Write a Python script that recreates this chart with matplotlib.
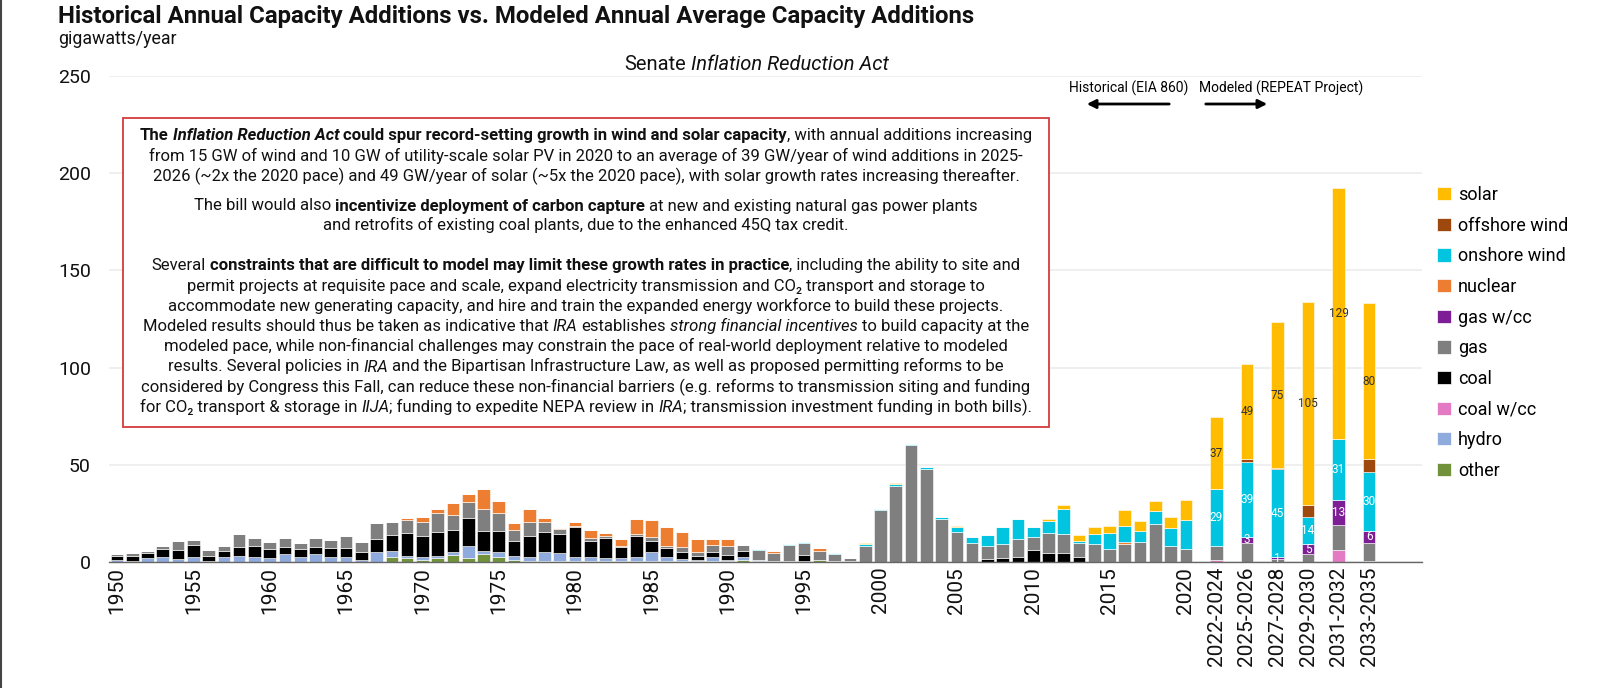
import matplotlib
matplotlib.use('Agg')
import matplotlib.pyplot as plt
import numpy as np
from matplotlib import font_manager
from matplotlib.patches import Patch, Rectangle, FancyArrowPatch
from matplotlib.lines import Line2D
from matplotlib.transforms import IdentityTransform

# ---- data: historical annual additions (GW), 1950-2020 ----
years = list(range(1950, 2021))
hist_other = ([0] * 18
              + [2.4, 1.9]                                              # 1968-69
              + [1.0, 1.9, 3.5, 1.9, 4.0, 2.7, 0.9, 0.4, 0.4, 0.4]      # 1970s
              + [0.4, 0.4, 0.4, 0.4, 0.4, 0.4, 0.4, 0.4, 0.4, 0.4]      # 1980s
              + [0.4, 1.2, 0.5, 0.5, 0.4, 0.6, 1.0, 0.5, 0.3, 0]        # 1990s
              + [0, 0.1, 0, 0, 0, 0, 0, 0, 0, 0]                        # 2000s
              + [0] * 11)                                               # 2010-20
hist_hydro = ([0.8, 0.6, 1.9, 2.4, 1.7, 2.4, 0.6, 2.4, 3.3, 2.4]
              + [2.0, 4.0, 2.7, 4.0, 2.7, 2.7, 1.0, 5.0, 3.1, 1.4]
              + [1.7, 1.4, 1.5, 6.3, 1.9, 2.6, 2.3, 2.0, 4.6, 4.1]
              + [2.3, 2.0, 1.5, 1.5, 2.0, 4.9, 2.1, 1.1, 0.6, 2.3]
              + [0.6, 1.5, 0.5, 0, 0, 0, 0, 0, 0, 0]
              + [0] * 10
              + [0] * 11)
hist_coal = ([2.2, 2.6, 2.7, 4.1, 4.6, 6.3, 2.5, 3.4, 4.6, 5.8]
             + [4.6, 3.6, 3.8, 3.9, 4.7, 4.7, 4.1, 6.7, 8.2, 11.5]
             + [10.6, 12.3, 11.5, 14.6, 9.8, 10.6, 7.7, 11.1, 10.6, 9.8]
             + [15.4, 8.6, 10.3, 5.7, 11.1, 5.6, 4.5, 3.8, 2.2, 2.3]
             + [2.6, 2.9, 0, 0, 0, 3.0, 0, 0, 0, 0]
             + [0, 0, 0, 0, 0, 0, 0, 1.7, 2.0, 2.4]
             + [6.2, 4.5, 4.5, 2.7, 0, 0, 0, 0, 0, 0, 0])
hist_gas = ([1.0, 1.6, 1.0, 1.9, 4.5, 2.4, 3.1, 2.6, 6.5, 4.0]
            + [3.8, 4.5, 3.4, 4.3, 4.1, 6.0, 5.3, 8.2, 6.9, 6.9]
            + [7.3, 9.4, 7.7, 8.2, 11.8, 9.1, 5.5, 6.9, 4.8, 2.7]
            + [0.3, 1.5, 1.4, 0.8, 0.9, 2.1, 1.4, 2.2, 2.2, 3.8]
            + [4.6, 3.1, 5.2, 4.0, 8.5, 6.0, 4.6, 3.5, 1.8, 8.3]
            + [26.7, 39.0, 60.0, 47.6, 22.3, 15.6, 10.0, 6.7, 7.5, 9.2]
            + [6.8, 10.3, 9.8, 6.9, 9.1, 6.7, 9.2, 10.1, 19.5, 8.4, 6.7])
hist_nuclear = ([0] * 19
                + [0.9]                                                 # 1969
                + [2.3, 2.2, 6.3, 4.0, 10.0, 6.5, 3.8, 7.0, 2.0, 0.7]
                + [2.2, 4.2, 1.2, 3.4, 7.8, 8.6, 9.8, 7.7, 6.3, 2.9]
                + [3.8, 0, 0, 1.3, 0, 0, 1.7, 0, 0, 0]
                + [0] * 10
                + [0, 0, 0, 0, 0, 0, 1.2, 0, 0, 0, 0])
hist_onshore = ([0] * 30
                + [0, 0, 0.2, 0, 0, 0, 0, 0, 0, 0]
                + [0, 0.3, 0.3, 0, 0.3, 0.8, 0, 0.5, 0, 1.0]
                + [0.5, 1.2, 0.7, 1.4, 0.7, 2.6, 2.7, 5.5, 8.6, 10.3]
                + [4.8, 6.5, 13.2, 1.2, 5.1, 8.1, 8.2, 5.8, 6.8, 8.9, 14.9])
hist_solar = ([0] * 40
              + [0, 0, 0, 0, 0, 0, 0, 0, 0.2, 0.3]
              + [0, 0.4, 0, 0, 0, 0.2, 0, 0, 0, 0]
              + [0.3, 0.9, 1.7, 3.1, 3.9, 3.9, 8.4, 5.3, 5.1, 5.7, 10.3])

# ---- data: modeled annual average additions (GW/year) ----
periods = ['2022-2024', '2025-2026', '2027-2028', '2029-2030', '2031-2032', '2033-2035']
mod_coal_cc = [1.0, 0, 0, 0, 6.0, 0.5]
mod_gas = [7.0, 10.0, 1.5, 4.0, 13.2, 9.5]
mod_gas_cc = [0, 3.0, 1.0, 5.1, 12.6, 5.8]
mod_onshore = [29.4, 38.6, 45.4, 13.8, 31.4, 30.3]
mod_offshore = [0, 1.4, 0.3, 6.3, 0, 6.9]
mod_solar = [37.0, 48.6, 75.2, 104.8, 129.3, 80.1]

names = {f.name for f in font_manager.fontManager.ttflist}
NARROW = 'Liberation Sans Narrow' if 'Liberation Sans Narrow' in names else 'Roboto'
BODY = ['Roboto', 'DejaVu Sans']

COLORS = {
    'solar': '#FFBC00', 'offshore wind': '#9E480E', 'onshore wind': '#00C4E0',
    'nuclear': '#ED7D31', 'gas w/cc': '#7E1E96', 'gas': '#7F7F7F',
    'coal': '#000000', 'coal w/cc': '#E47AC4', 'hydro': '#8FAADC', 'other': '#71923A',
}

W, H = 1600, 688
fig = plt.figure(figsize=(W / 100, H / 100), dpi=100)
renderer = fig.canvas.get_renderer()


def fx(x):
    return x / W


def fy(y):
    return 1 - y / H


# axes: bar position 0 sits at pixel 117, 15.27 px per position
ax = fig.add_axes([fx(109), fy(562), fx(1422) - fx(109), fy(76) - fy(562)])
ax.set_xlim((109 - 117) / 15.27, (1422 - 117) / 15.27)
ax.set_ylim(0, 250)

xh = np.arange(len(years))
xm = 72 + 2 * np.arange(len(periods))
zeros = [0] * len(periods)
stack = [
    ('other', hist_other, zeros),
    ('hydro', hist_hydro, zeros),
    ('coal w/cc', [0] * len(years), mod_coal_cc),
    ('coal', hist_coal, zeros),
    ('gas', hist_gas, mod_gas),
    ('gas w/cc', [0] * len(years), mod_gas_cc),
    ('nuclear', hist_nuclear, zeros),
    ('onshore wind', hist_onshore, mod_onshore),
    ('offshore wind', [0] * len(years), mod_offshore),
    ('solar', hist_solar, mod_solar),
]
label_colors = {'gas w/cc': 'white', 'onshore wind': 'white', 'solar': '#333333'}

bh = np.zeros(len(years))
bm = np.zeros(len(periods))
for name, h, m in stack:
    h = np.array(h, dtype=float)
    m = np.array(m, dtype=float)
    ax.bar(xh, h, 0.83, bottom=bh, color=COLORS[name], edgecolor='white', linewidth=0.4)
    bars = ax.bar(xm, m, 0.83, bottom=bm, color=COLORS[name], edgecolor='white', linewidth=0.4)
    if name in label_colors:
        ax.bar_label(bars, labels=[f'{v:.0f}' if v >= 0.5 else '' for v in m],
                     label_type='center', color=label_colors[name], fontsize=8.5, family=BODY)
    bh += h
    bm += m

ticks = list(range(0, len(years), 5)) + list(xm)
ticklabels = [str(years[i]) for i in range(0, len(years), 5)] + periods
ax.set_xticks(ticks)
ax.set_xticklabels(ticklabels, rotation=90, fontsize=15, family=BODY, color='#111111')
ax.set_yticks([0, 50, 100, 150, 200, 250])
ax.set_yticklabels(['0', '50', '100', '150', '200', '250'], fontsize=14, family=BODY, color='#111111')
ax.tick_params(length=0)
ax.tick_params(axis='x', pad=3.5)
ax.tick_params(axis='y', pad=13)
ax.yaxis.grid(True, color='#EEEEEE', linewidth=1.3)
ax.set_axisbelow(True)
for s in ax.spines.values():
    s.set_visible(False)
ax.spines['bottom'].set_visible(True)
ax.spines['bottom'].set_color('#666666')
ax.spines['bottom'].set_linewidth(1.0)


def fit(t, width):
    w = t.get_window_extent(renderer).width
    t.set_fontsize(t.get_fontsize() * width / w)


def rich_line(cx, y, parts, size, family, color='#111111', z=6):
    # parts: (text, style) with style in '', 'b', 'i', 'bi'; y is the visual middle of the line
    space = {}
    items = []
    total = 0.0
    for s, st in parts:
        wt = 'bold' if 'b' in st else 'normal'
        it = 'italic' if 'i' in st else 'normal'
        if (wt, it) not in space:
            a = fig.text(0, 0, 'x x', fontsize=size, fontweight=wt, fontstyle=it, family=family,
                         transform=IdentityTransform())
            b = fig.text(0, 0, 'xx', fontsize=size, fontweight=wt, fontstyle=it, family=family,
                         transform=IdentityTransform())
            space[(wt, it)] = a.get_window_extent(renderer).width - b.get_window_extent(renderer).width
            a.remove()
            b.remove()
        lead = len(s) - len(s.lstrip(' '))
        trail = len(s) - len(s.rstrip(' '))
        t = fig.text(0, 0, s.strip(' '), fontsize=size, fontweight=wt, fontstyle=it, family=family,
                     transform=IdentityTransform(), ha='left', va='baseline', color=color, zorder=z)
        total += lead * space[(wt, it)]
        items.append((t, total))
        total += t.get_window_extent(renderer).width + trail * space[(wt, it)]
    left = cx - total / 2
    for t, off in items:
        t.set_position((left + off, H - (y + 0.5 * size)))


# titles
t = fig.text(fx(58), fy(17), 'Historical Annual Capacity Additions vs. Modeled Annual Average Capacity Additions',
             fontsize=16, fontweight='bold', family=NARROW, va='center', color='#111111')
fit(t, 922)
t = fig.text(fx(58), fy(39), 'gigawatts/year', fontsize=12, family=NARROW, va='center', color='#111111')
fit(t, 118)
rich_line(757, 62.5, [('Senate ', ''), ('Inflation Reduction Act', 'i')], 14.5, BODY)

# historical / modeled annotation
fig.text(fx(1129), fy(88), 'Historical (EIA 860)', ha='center', va='center', fontsize=10, family=BODY)
fig.text(fx(1281), fy(88), 'Modeled (REPEAT Project)', ha='center', va='center', fontsize=10, family=BODY)
fig.add_artist(FancyArrowPatch((fx(1172), fy(104)), (fx(1084), fy(104)), transform=fig.transFigure,
                               arrowstyle='-|>', mutation_scale=13, lw=2, color='black'))
fig.add_artist(FancyArrowPatch((fx(1203), fy(104)), (fx(1270), fy(104)), transform=fig.transFigure,
                               arrowstyle='-|>', mutation_scale=13, lw=2, color='black'))

# text box
fig.add_artist(Rectangle((fx(123), fy(427)), fx(1049) - fx(123), fy(118) - fy(427),
                         transform=fig.transFigure, facecolor='white', edgecolor='#D43A3A',
                         linewidth=1.3, zorder=5))
box_lines = [
    (134, [('The ', 'b'), ('Inflation Reduction Act', 'bi'),
           (' could spur record-setting growth in wind and solar capacity', 'b'),
           (', with annual additions increasing', '')]),
    (154.5, [('from 15 GW of wind and 10 GW of utility-scale solar PV in 2020 to an average of 39 GW/year of wind additions in 2025-', '')]),
    (175, [('2026 (~2x the 2020 pace) and 49 GW/year of solar (~5x the 2020 pace), with solar growth rates increasing thereafter.', '')]),
    (204.5, [('The bill would also ', ''), ('incentivize deployment of carbon capture', 'b'),
             (' at new and existing natural gas power plants', '')]),
    (224, [('and retrofits of existing coal plants, due to the enhanced 45Q tax credit.', '')]),
    (264, [('Several ', ''), ('constraints that are difficult to model may limit these growth rates in practice', 'b'),
           (', including the ability to site and', '')]),
    (284.5, [('permit projects at requisite pace and scale, expand electricity transmission and CO\u2082 transport and storage to', '')]),
    (305, [('accommodate new generating capacity, and hire and train the expanded energy workforce to build these projects.', '')]),
    (325, [('Modeled results should thus be taken as indicative that ', ''), ('IRA', 'i'), (' establishes ', ''),
           ('strong financial incentives', 'i'), (' to build capacity at the', '')]),
    (345, [('modeled pace, while non-financial challenges may constrain the pace of real-world deployment relative to modeled', '')]),
    (365.5, [('results. Several policies in ', ''), ('IRA', 'i'),
             (' and the Bipartisan Infrastructure Law, as well as proposed permitting reforms to be', '')]),
    (386, [('considered by Congress this Fall, can reduce these non-financial barriers (e.g. reforms to transmission siting and funding', '')]),
    (406, [('for CO\u2082 transport & storage in ', ''), ('IIJA', 'i'), ('; funding to expedite NEPA review in ', ''),
           ('IRA', 'i'), ('; transmission investment funding in both bills).', '')]),
]
for y, parts in box_lines:
    rich_line(586, y, parts, 12.0, BODY)

# legend
order = ['solar', 'offshore wind', 'onshore wind', 'nuclear', 'gas w/cc', 'gas', 'coal', 'coal w/cc', 'hydro', 'other']
handles = [Patch(facecolor=COLORS[n], edgecolor='white', linewidth=0.5) for n in order]
fig.legend(handles, order, loc='upper left', bbox_to_anchor=(fx(1437), fy(186)), frameon=False,
           prop={'family': BODY, 'size': 13}, handlelength=0.75, handleheight=0.75, handletextpad=0.4,
           labelspacing=0.70, borderpad=0, borderaxespad=0)

fig.add_artist(Line2D([fx(1), fx(1)], [0, 1], color='#444444', linewidth=1.5))

fig.savefig('out.png', dpi=100, facecolor='white')
